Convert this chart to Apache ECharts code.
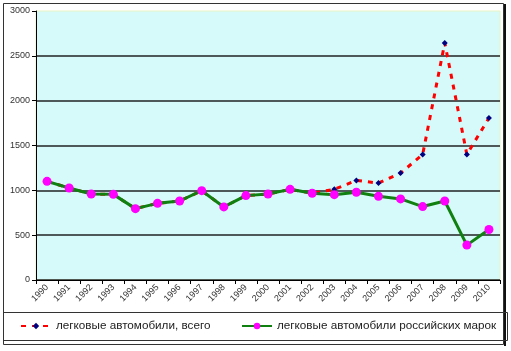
<!DOCTYPE html>
<html>
<head>
<meta charset="utf-8">
<script src="https://cdn.jsdelivr.net/npm/echarts@6/dist/echarts.min.js"></script>
<style>
	html, body {margin: 0; padding: 0; background: #fff;}
	#chart_cars {width: 511px; height: 351px;}
</style>
</head>
<body>
<div id="chart_cars"></div>
<script>
// годы и значения
var years = ['1990', '1991', '1992', '1993', '1994', '1995', '1996', '1997', '1998', '1999', '2000',
	'2001', '2002', '2003', '2004', '2005', '2006', '2007', '2008', '2009', '2010'];
var totalCars = [1100, 1026, 959, 955, 796, 855, 881, 996, 815, 941, 959, 1011, 967, 1011, 1111, 1081, 1192, 1400, 2644, 1400, 1807];
var russianCars = [1100, 1026, 959, 955, 796, 855, 881, 996, 815, 941, 959, 1011, 967, 952, 978, 933, 904, 819, 881, 389, 563];
var yTicks = [0, 500, 1000, 1500, 2000, 2500, 3000];
var seriesNames = ['легковые автомобили, всего', 'легковые автомобили российских марок'];

function legendFor(name, left) {
	return {
		left: left,
		top: 320,
		width: 300,
		padding: 0,
		itemWidth: 30,
		itemHeight: 8,
		textStyle: {fontSize: 11.7, color: '#222', overflow: 'none'},
		data: [name]
	};
}

function drawChart() {
	var myChart = echarts.init(document.getElementById("chart_cars"), null, {renderer: 'canvas'});
	var option = {
		animation: false,
		backgroundColor: '#ffffff',
		textStyle: {fontFamily: 'Liberation Sans, Arial, sans-serif'},
		grid: {
			left: 36,
			top: 11,
			right: 11,
			bottom: 71,
			show: true,
			backgroundColor: '#d6fafa',
			borderColor: '#e8f2c4',
			borderWidth: 1
		},
		legend: [legendFor(seriesNames[0], 20), legendFor(seriesNames[1], 241)],
		xAxis: {
			type: 'category',
			data: years,
			boundaryGap: true,
			axisLine: {lineStyle: {color: '#000', width: 1}},
			axisTick: {show: true, length: 4, interval: 0, lineStyle: {color: '#000'}},
			axisLabel: {rotate: 45, fontSize: 9, color: '#333', margin: 6, interval: 0}
		},
		yAxis: {
			type: 'value',
			min: yTicks[0],
			max: yTicks[yTicks.length - 1],
			interval: 500,
			axisLine: {show: true, lineStyle: {color: '#000', width: 1}},
			axisTick: {show: true, length: 4, lineStyle: {color: '#000'}},
			axisLabel: {
				fontSize: 9, color: '#333', margin: 6,
				formatter: function (v) {
					return String(v);
				}
			},
			splitLine: {show: true, showMaxLine: false, lineStyle: {color: '#222', width: 1.5}}
		},
		graphic: [
			{
				type: 'rect',
				shape: {x: 3.5, y: 3.5, width: 500, height: 341},
				style: {fill: null, stroke: '#333', lineWidth: 1},
				silent: true
			},
			{
				type: 'line',
				shape: {x1: 505, y1: 4, x2: 505, y2: 346},
				style: {stroke: '#111', lineWidth: 2},
				silent: true
			},
			{
				type: 'rect',
				shape: {x: 3.5, y: 312.5, width: 504, height: 28},
				style: {fill: null, stroke: '#333', lineWidth: 1},
				silent: true
			}
		],
		series: [
			{
				name: seriesNames[0],
				type: 'line',
				data: totalCars,
				z: 2,
				symbol: 'diamond',
				symbolSize: 6,
				showAllSymbol: true,
				itemStyle: {color: '#000080'},
				lineStyle: {color: '#ff0000', width: 3, type: [5, 6]}
			},
			{
				name: seriesNames[1],
				type: 'line',
				data: russianCars,
				z: 3,
				symbol: 'circle',
				symbolSize: 9,
				showAllSymbol: true,
				itemStyle: {color: '#ff00ff'},
				lineStyle: {color: '#108010', width: 3}
			}
		]
	};
	myChart.setOption(option, true);
}
drawChart();
</script>
</body>
</html>
